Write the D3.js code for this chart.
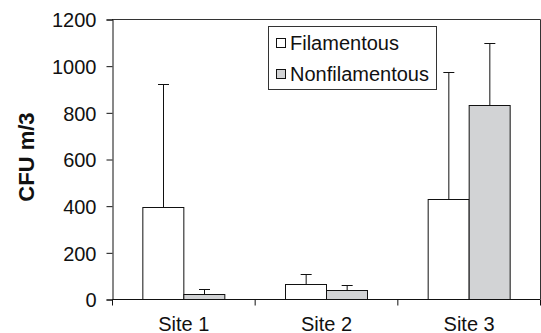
<!DOCTYPE html>
<html>
<head>
<meta charset="utf-8">
<script src="https://cdn.jsdelivr.net/npm/d3@7"></script>
<style>
  body { margin: 0; background: #fff; }
  svg text { font-family: "Liberation Sans", Arial, Helvetica, sans-serif; fill: #111; }
</style>
</head>
<body>
<div id="chart"></div>
<script>
// dati (media e barra d'errore superiore)
const siti = ['Site 1', 'Site 2', 'Site 3'];
const serie = ['Filamentous', 'Nonfilamentous'];
const filamentous = [395, 65, 430];
const filamentousErr = [526, 41, 544];
const nonfilamentous = [20, 40, 830];
const nonfilamentousErr = [24, 19, 267];
const yTicks = [0, 200, 400, 600, 800, 1000, 1200];

const colori = { Filamentous: '#ffffff', Nonfilamentous: '#d2d3d5' };

const width = 541, height = 333;
const margin = { top: 19, right: 1, bottom: 34, left: 112 };
const w = width - margin.left - margin.right;
const h = height - margin.top - margin.bottom;

const svg = d3.select('#chart').append('svg')
    .attr('width', width)
    .attr('height', height);

const g = svg.append('g')
    .attr('transform', `translate(${margin.left},${margin.top})`);

// righe: una per sito, con le due serie
const righe = siti.map((s, i) => ({
    sito: s,
    valori: [
        { serie: 'Filamentous', v: filamentous[i], err: filamentousErr[i] },
        { serie: 'Nonfilamentous', v: nonfilamentous[i], err: nonfilamentousErr[i] }
    ]
}));

const x0 = d3.scaleBand().domain(siti).range([0, w]).padding(0);
const x1 = d3.scaleBand().domain(serie).range([0, x0.bandwidth()])
    .paddingInner(0).paddingOuter(0.74);
const y = d3.scaleLinear().domain([0, 1200]).range([h, 0]);

// cornice superiore e destra
g.append('path')
    .attr('d', `M0,0.5H${w + 0.5}V${h}`)
    .attr('fill', 'none')
    .attr('stroke', '#333')
    .attr('stroke-width', 1);

// barre
const gruppi = g.selectAll('.gruppo')
    .data(righe)
    .join('g')
    .attr('class', 'gruppo')
    .attr('transform', d => `translate(${x0(d.sito)},0)`);

gruppi.selectAll('rect')
    .data(d => d.valori)
    .join('rect')
    .attr('x', d => x1(d.serie) + 0.5)
    .attr('y', d => Math.round(y(d.v)) + 0.5)
    .attr('width', x1.bandwidth())
    .attr('height', d => h - Math.round(y(d.v)))
    .attr('fill', d => colori[d.serie])
    .attr('stroke', '#111')
    .attr('stroke-width', 1);

// barre d'errore (solo verso l'alto)
const cap = 5.5;
gruppi.selectAll('.err')
    .data(d => d.valori)
    .join('path')
    .attr('class', 'err')
    .attr('d', d => {
        const cx = Math.round(x1(d.serie) + x1.bandwidth() / 2) + 0.5;
        const y0 = Math.round(y(d.v)) + 0.5;
        const y1 = Math.round(y(d.v + d.err)) + 0.5;
        return `M${cx},${y0}V${y1}M${cx - cap},${y1}H${cx + cap}`;
    })
    .attr('fill', 'none')
    .attr('stroke', '#111')
    .attr('stroke-width', 1);

// asse y
const assey = g.append('g')
    .attr('transform', 'translate(0.5,0.5)')
    .call(d3.axisLeft(y).tickValues(yTicks).tickFormat(d3.format('d')).tickSize(6).tickPadding(10));
assey.select('.domain').attr('stroke', '#111');
assey.selectAll('.tick line').attr('stroke', '#111');
assey.selectAll('text').style('font-size', '20px').attr('dy', '0.36em');

// asse x: tacche ai bordi delle categorie
const assex = g.append('g')
    .attr('transform', `translate(0.5,${h + 0.5})`);
assex.append('path')
    .attr('d', `M0,0H${w}`)
    .attr('stroke', '#111');
assex.selectAll('.tacca')
    .data(siti.concat(['fine']))
    .join('line')
    .attr('class', 'tacca')
    .attr('x1', (d, i) => i * x0.step())
    .attr('x2', (d, i) => i * x0.step())
    .attr('y1', 0).attr('y2', 6)
    .attr('stroke', '#111');
assex.selectAll('.etichetta')
    .data(siti)
    .join('text')
    .attr('class', 'etichetta')
    .attr('x', d => x0(d) + x0.bandwidth() / 2)
    .attr('y', 31)
    .attr('text-anchor', 'middle')
    .style('font-size', '20px')
    .text(d => d);

// titolo asse y
svg.append('text')
    .attr('transform', `translate(34,${margin.top + h / 2 - 2}) rotate(-90)`)
    .attr('text-anchor', 'middle')
    .style('font-size', '22px')
    .style('font-weight', 'bold')
    .text('CFU m/3');

// legenda
const leg = svg.append('g').attr('transform', 'translate(268,26)');
leg.append('rect')
    .attr('x', 0.5).attr('y', 0.5)
    .attr('width', 168).attr('height', 63)
    .attr('fill', '#fff')
    .attr('stroke', '#333');

serie.forEach((s, i) => {
    const riga = leg.append('g').attr('transform', `translate(0,${i * 31})`);
    riga.append('rect')
        .attr('x', 8.5).attr('y', 12.5)
        .attr('width', 9).attr('height', 9)
        .attr('fill', colori[s])
        .attr('stroke', '#111');
    riga.append('text')
        .attr('x', 22).attr('y', 24)
        .style('font-size', '20px')
        .text(s);
});
</script>
</body>
</html>
